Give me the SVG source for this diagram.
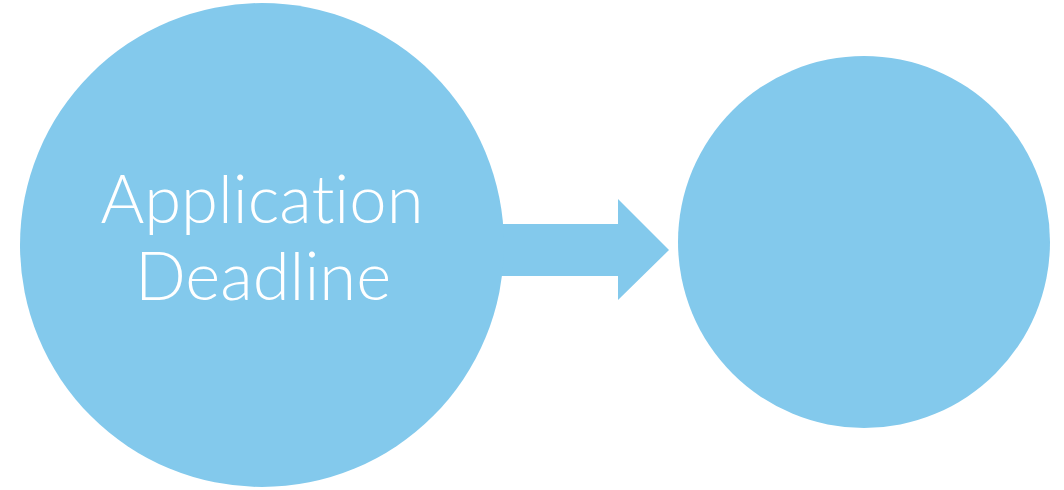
<svg xmlns="http://www.w3.org/2000/svg" width="1064" height="490" viewBox="0 0 1064 490">
<style>
.node{fill:#83C9EC}
.lbl{fill:#ffffff;font-family:Lato,"Open Sans","Liberation Sans",sans-serif;font-weight:300;font-size:67px;text-anchor:middle;font-variant-ligatures:none;font-feature-settings:"liga" 0}
</style>
<rect width="1064" height="490" fill="#ffffff"/>
<g id="connectors">
<polygon class="node" points="495,224 618,224 618,199 669,250 618,300 618,276 495,276"/>
</g>
<g id="node-application-deadline">
<circle class="node" cx="262" cy="245" r="242"/>
<text class="lbl" x="262" y="223">Application</text>
<text class="lbl" x="263" y="300">Deadline</text>
</g>
<g id="node-empty">
<circle class="node" cx="864" cy="242" r="186"/>
</g>
</svg>
